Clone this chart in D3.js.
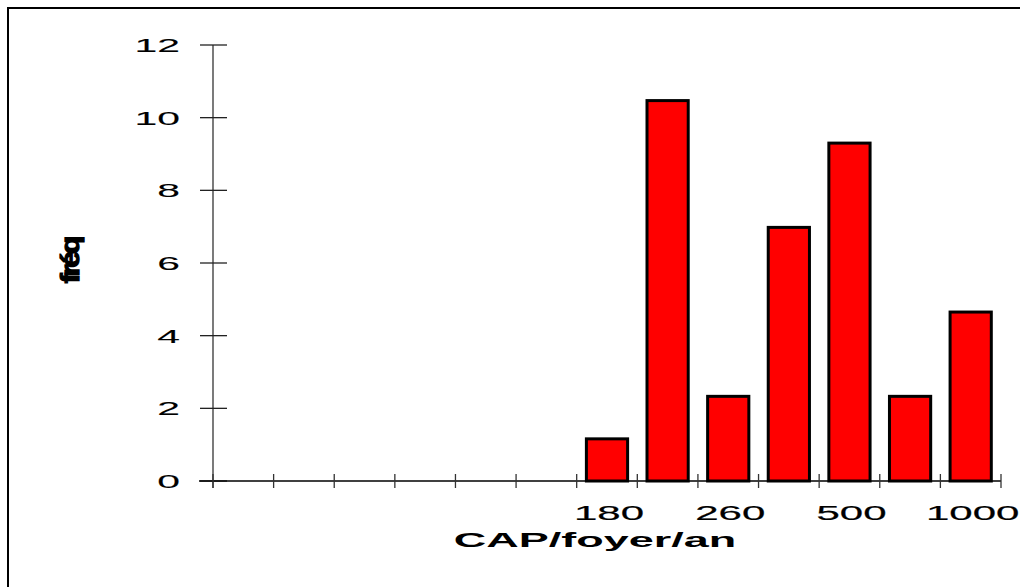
<!DOCTYPE html>
<html><head><meta charset="utf-8">
<script src="https://cdn.jsdelivr.net/npm/d3@7"></script>
<style>body{margin:0;background:#fff;overflow:hidden}svg{display:block}text{font-family:"Liberation Sans",Arial,sans-serif}</style>
</head><body>
<svg id="c" width="1020" height="587"></svg>
<script>
const classes = ["c1","c2","c3","c4","c5","c6","c7","c8","c9","c10","c11","c12","c13"];
const xLabels = ["","","","","","","180","","260","","500","","1000"];
const freq = [0,0,0,0,0,0,1.16,10.47,2.33,6.98,9.30,2.33,4.65];
const yTicks = [0,2,4,6,8,10,12];
const xTitle = "CAP/foyer/an";
const yTitle = "fréq";

const svg = d3.select("#c");
// frame: only top and left edges are visible in the picture
svg.append("path").attr("d","M8,600V8H1030").attr("fill","none").attr("stroke","#000").attr("stroke-width",2);

const x = d3.scaleBand().domain(classes).range([213,1001]).paddingInner(0.32).paddingOuter(0.16);
const y = d3.scaleLinear().domain([0,12]).range([481,45]);
const x0 = x.range()[0];

// y axis
const gy = svg.append("g").attr("transform",`translate(${x0},0)`);
gy.append("line").attr("x1",0).attr("x2",0).attr("y1",y(12)).attr("y2",y(0)+7).attr("stroke","#333").attr("stroke-width",1.3);
gy.selectAll("line.t").data(yTicks).join("line").attr("class","t")
  .attr("x1",-13).attr("x2",14).attr("y1",d=>y(d)).attr("y2",d=>y(d)).attr("stroke","#222").attr("stroke-width",1.3);
gy.selectAll("text").data(yTicks).join("text")
  .attr("transform",d=>`translate(-33,${y(d)}) scale(2.15,1)`)
  .attr("text-anchor","end").attr("dy","0.36em").attr("font-size",19)
  .attr("stroke","#000").attr("stroke-width",0.1).text(d=>d);

// x axis
const gx = svg.append("g");
gx.append("line").attr("x1",x0-14).attr("x2",x.range()[1]).attr("y1",y(0)).attr("y2",y(0)).attr("stroke","#000").attr("stroke-width",1.5);
gx.selectAll("line.t").data(d3.range(classes.length+1)).join("line").attr("class","t")
  .attr("x1",i=>x0+i*x.step()).attr("x2",i=>x0+i*x.step())
  .attr("y1",y(0)-7).attr("y2",y(0)+7).attr("stroke","#333").attr("stroke-width",1.3);
gx.selectAll("text").data(classes).join("text")
  .attr("transform",d=>`translate(${x(d)+x.bandwidth()/2+2},520) scale(2.1,1)`)
  .attr("text-anchor","middle").attr("font-size",20)
  .attr("stroke","#000").attr("stroke-width",0.2)
  .text((d,i)=>xLabels[i]);

// bars
svg.append("g").selectAll("rect").data(classes.map((c,i)=>({c,v:freq[i]})).filter(d=>d.v>0))
  .join("rect")
  .attr("x",d=>x(d.c)).attr("width",x.bandwidth())
  .attr("y",d=>y(d.v)).attr("height",d=>y(0)-y(d.v))
  .attr("fill","#ff0000").attr("stroke","#000").attr("stroke-width",3);

// titles
svg.append("text").attr("transform","translate(595,547) scale(2.25,1)")
  .attr("text-anchor","middle").attr("font-size",20).attr("font-weight","bold").text(xTitle);
svg.append("text").attr("transform","translate(79,261) rotate(-90) scale(1.5,1.25)")
  .attr("text-anchor","middle").attr("font-size",20).attr("font-weight","bold")
  .attr("stroke","#000").attr("stroke-width",1)
  .attr("letter-spacing",-2).text(yTitle);
</script>
</body></html>
